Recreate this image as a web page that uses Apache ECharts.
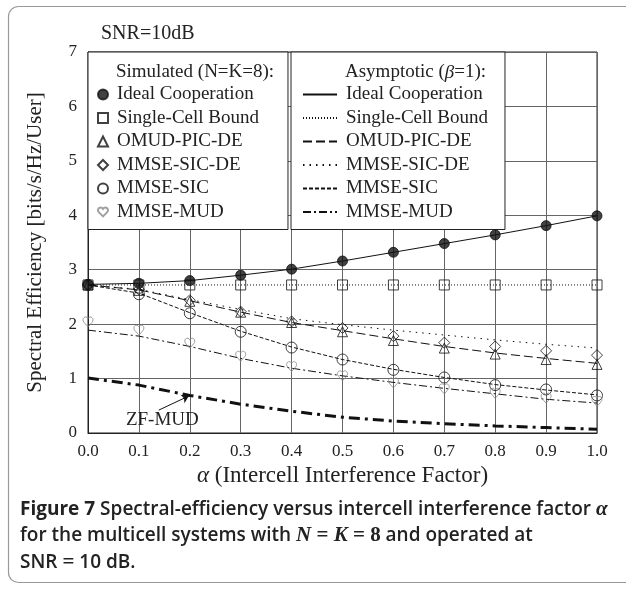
<!DOCTYPE html>
<html>
<head>
<meta charset="utf-8">
<script src="https://cdn.jsdelivr.net/npm/echarts@6/dist/echarts.min.js"></script>
<style>
html, body { margin: 0; padding: 0; background: #fff; }
#chart { width: 626px; height: 590px; }
</style>
</head>
<body>
<div id="chart"></div>
<script>
// x values: intercell interference factor
var alpha = [0.0, 0.1, 0.2, 0.3, 0.4, 0.5, 0.6, 0.7, 0.8, 0.9, 1.0];

// simulated (N=K=8), markers
var simIdeal  = [2.73, 2.75, 2.80, 2.90, 3.01, 3.16, 3.32, 3.48, 3.64, 3.81, 3.99];
var simSingle = [2.72, 2.72, 2.72, 2.72, 2.72, 2.72, 2.72, 2.72, 2.72, 2.72, 2.72];
var simOmud   = [2.72, 2.62, 2.42, 2.22, 2.03, 1.86, 1.70, 1.56, 1.45, 1.35, 1.26];
var simSicDe  = [2.72, 2.64, 2.44, 2.23, 2.05, 1.93, 1.78, 1.66, 1.59, 1.51, 1.43];
var simSic    = [2.72, 2.55, 2.20, 1.86, 1.57, 1.35, 1.16, 1.02, 0.88, 0.80, 0.69];
var simMud    = [2.04, 1.89, 1.65, 1.41, 1.22, 1.05, 0.92, 0.81, 0.73, 0.64, 0.58];

// asymptotic (beta=1), lines
var asyIdeal  = [2.73, 2.75, 2.80, 2.90, 3.01, 3.16, 3.32, 3.48, 3.64, 3.81, 3.99];
var asySingle = [2.72, 2.72, 2.72, 2.72, 2.72, 2.72, 2.72, 2.72, 2.72, 2.72, 2.72];
var asyOmud   = [2.72, 2.63, 2.43, 2.22, 2.03, 1.88, 1.73, 1.59, 1.47, 1.37, 1.28];
var asySicDe  = [2.72, 2.64, 2.45, 2.27, 2.10, 1.99, 1.89, 1.80, 1.71, 1.63, 1.56];
var asySic    = [2.72, 2.57, 2.21, 1.87, 1.58, 1.35, 1.17, 1.02, 0.89, 0.79, 0.70];
var asyMud    = [1.89, 1.78, 1.59, 1.37, 1.19, 1.05, 0.93, 0.82, 0.72, 0.62, 0.55];
var asyZf     = [1.01, 0.88, 0.69, 0.53, 0.40, 0.29, 0.22, 0.17, 0.13, 0.10, 0.07];

var legendNames = ['Ideal Cooperation', 'Single-Cell Bound', 'OMUD-PIC-DE', 'MMSE-SIC-DE', 'MMSE-SIC', 'MMSE-MUD'];

var serif = 'Liberation Serif';
var sans = 'Open Sans';
var heart = 'path://M12 22 L3 13 C0 10 0 5.5 3 3.5 C6 1.5 9.5 2 12 5.5 C14.5 2 18 1.5 21 3.5 C24 5.5 24 10 21 13 Z';

function pairs(vals) {
    return alpha.map(function (a, i) { return [a, vals[i]]; });
}

function simSeries(name, vals, symbol, size, color, border) {
    return {
        name: name,
        type: 'scatter',
        data: pairs(vals),
        symbol: symbol,
        symbolSize: size,
        z: 4,
        itemStyle: {
            color: color,
            borderColor: border,
            borderWidth: 1
        }
    };
}

function asySeries(name, vals, dash, width) {
    return {
        name: 'a:' + name,
        type: 'line',
        data: pairs(vals),
        symbol: 'none',
        z: 3,
        lineStyle: {
            color: '#111',
            width: width || 1,
            type: dash
        }
    };
}

// ZF-MUD curve with its arrow annotation
var zfSeries = asySeries('ZF-MUD', asyZf, [11, 5, 3, 5], 3);
zfSeries.markLine = {
    silent: true,
    symbol: ['none', 'arrow'],
    symbolSize: 7,
    lineStyle: { color: '#111', width: 1, type: 'solid' },
    label: { show: false },
    data: [[{ coord: [0.139, 0.42] }, { coord: [0.198, 0.68] }]]
};
zfSeries.markPoint = {
    silent: true,
    symbol: 'rect',
    symbolSize: 1,
    itemStyle: { color: 'rgba(0,0,0,0)' },
    label: {
        show: true, position: 'inside', formatter: 'ZF-MUD',
        fontFamily: serif, fontSize: 19, color: '#222'
    },
    data: [{ coord: [0.146, 0.24] }]
};

var series = [
    asySeries('Ideal Cooperation', asyIdeal, 'solid'),
    asySeries('Single-Cell Bound', asySingle, [1, 2]),
    asySeries('OMUD-PIC-DE', asyOmud, [9, 4]),
    asySeries('MMSE-SIC-DE', asySicDe, [1.5, 5]),
    asySeries('MMSE-SIC', asySic, [4, 2]),
    asySeries('MMSE-MUD', asyMud, [8, 3, 2, 3]),
    zfSeries,
    simSeries('Ideal Cooperation', simIdeal, 'circle', 10, '#111', '#111'),
    simSeries('Single-Cell Bound', simSingle, 'rect', 10, 'rgba(0,0,0,0)', '#111'),
    simSeries('OMUD-PIC-DE', simOmud, 'triangle', 10, 'rgba(0,0,0,0)', '#111'),
    simSeries('MMSE-SIC-DE', simSicDe, 'diamond', 11, 'rgba(0,0,0,0)', '#111'),
    simSeries('MMSE-SIC', simSic, 'circle', 11, 'rgba(0,0,0,0)', '#111'),
    simSeries('MMSE-MUD', simMud, heart, 10, 'rgba(0,0,0,0)', '#888')
];

var legendText = {
    fontFamily: serif, fontSize: 19, color: '#222',
    padding: [0, 0, 0, 4]
};

var captionRich = {
    b: { fontFamily: sans, fontWeight: 'bold', fontSize: 19, color: '#222', lineHeight: 26.5 },
    s: { fontFamily: sans, fontWeight: 600, fontSize: 19, color: '#222', lineHeight: 26.5 },
    m: { fontFamily: serif, fontStyle: 'italic', fontSize: 21, color: '#222', lineHeight: 26.5 },
    i: { fontFamily: serif, fontStyle: 'italic', fontWeight: 'bold', fontSize: 21, color: '#222', lineHeight: 26.5 },
    r: { fontFamily: serif, fontWeight: 'bold', fontSize: 21, color: '#222', lineHeight: 26.5 }
};

var option = {
    animation: false,
    backgroundColor: '#fff',
    title: [
        {
            text: 'SNR=10dB', left: 96, top: 19,
            textStyle: { fontFamily: serif, fontSize: 20, fontWeight: 'normal', color: '#222' }
        },
        {
            text: 'Simulated (N=K=8):', left: 116, top: 63, padding: 0, z: 10,
            textStyle: { fontFamily: serif, fontSize: 19, fontWeight: 'normal', color: '#222' }
        },
        {
            text: 'Asymptotic ({b|β}=1):', left: 345, top: 63, padding: 0, z: 10,
            textStyle: {
                fontFamily: serif, fontSize: 19, fontWeight: 'normal', color: '#222',
                rich: { b: { fontFamily: serif, fontStyle: 'italic', fontSize: 19, color: '#222' } }
            }
        },
        {
            text: '{b|Figure 7} {s|Spectral-efficiency versus intercell interference factor }{m|α}\n' +
                  '{s|for the multicell systems with }{i|N}{r| = }{i|K}{r| = 8}{s| and operated at}\n' +
                  '{s|SNR }{r|=}{s| 10 dB.}',
            left: 20, top: 496, padding: 0,
            textStyle: { rich: captionRich }
        }
    ],
    grid: {
        left: 88, right: 29, top: 52, bottom: 157,
        show: true, borderColor: '#222', borderWidth: 1
    },
    xAxis: {
        type: 'value', min: 0, max: 1, interval: 0.1,
        name: '{a|α} (Intercell Interference Factor)',
        nameLocation: 'middle', nameGap: 31,
        nameTextStyle: {
            fontFamily: serif, fontSize: 23, color: '#222',
            rich: { a: { fontFamily: serif, fontStyle: 'italic', fontSize: 23, color: '#222' } }
        },
        axisLine: { lineStyle: { color: '#222' } },
        axisTick: { show: false },
        axisLabel: {
            fontFamily: serif, fontSize: 17, color: '#222', margin: 10,
            formatter: function (v) { return v.toFixed(1); }
        },
        splitLine: { lineStyle: { color: '#666' } }
    },
    yAxis: {
        type: 'value', min: 0, max: 7, interval: 1,
        name: 'Spectral Efficiency [bits/s/Hz/User]',
        nameLocation: 'middle', nameGap: 42,
        nameTextStyle: { fontFamily: serif, fontSize: 21, color: '#222' },
        axisLine: { show: true, lineStyle: { color: '#222' } },
        axisTick: { show: false },
        axisLabel: { fontFamily: serif, fontSize: 17, color: '#222', margin: 11 },
        splitLine: { lineStyle: { color: '#666' } }
    },
    legend: [
        {
            orient: 'vertical', left: 88, top: 52,
            padding: [33, 29, 8, 9],
            backgroundColor: '#fff', borderColor: '#222', borderWidth: 1,
            itemWidth: 10, itemHeight: 10, itemGap: 4.5,
            selectedMode: false,
            textStyle: legendText,
            data: legendNames
        },
        {
            orient: 'vertical', left: 291, top: 52,
            padding: [33, 17, 8, 11],
            backgroundColor: '#fff', borderColor: '#222', borderWidth: 1,
            itemWidth: 34, itemHeight: 10, itemGap: 4.5,
            selectedMode: false,
            itemStyle: { opacity: 0 },
            textStyle: legendText,
            formatter: function (n) { return n.replace(/^a:/, ''); },
            data: legendNames.map(function (n) { return 'a:' + n; })
        }
    ],
    graphic: [
        {
            type: 'rect', silent: true,
            shape: { x: 8.5, y: 6.5, width: 650, height: 576, r: 10 },
            style: { fill: 'none', stroke: '#999', lineWidth: 1.2 }
        }
    ],
    series: series
};

var chart = echarts.init(document.getElementById('chart'));
chart.setOption(option);
</script>
</body>
</html>
